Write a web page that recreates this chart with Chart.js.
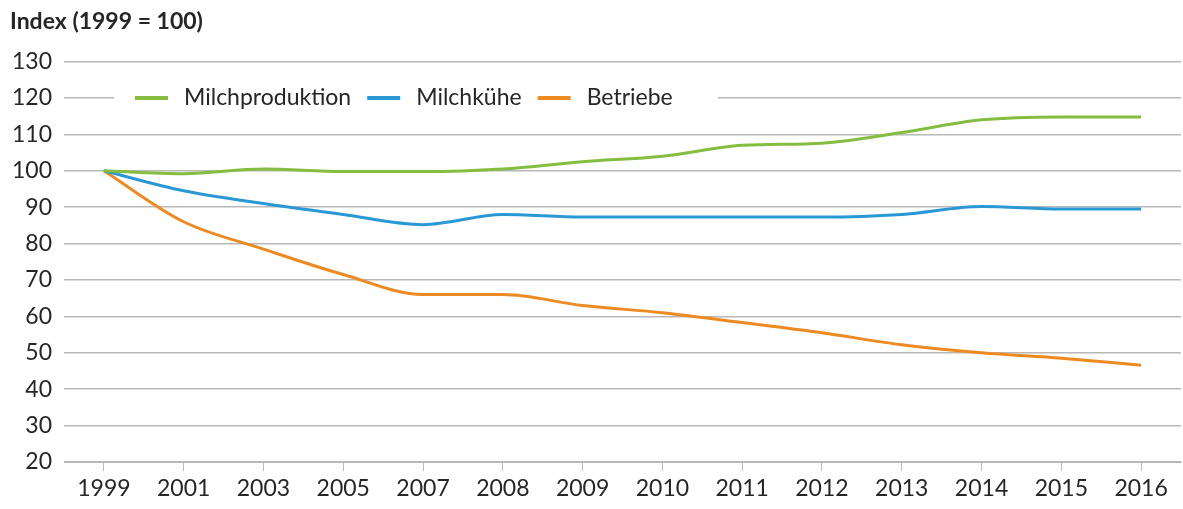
<!DOCTYPE html>
<html>
<head>
<meta charset="utf-8">
<script src="https://cdn.jsdelivr.net/npm/chart.js@4.4.0/dist/chart.umd.min.js"></script>
<style>
  body { margin: 0; background: #fff; }
  #wrap { width: 1183px; height: 509px; position: relative; }
</style>
</head>
<body>
<div id="wrap"><canvas id="chart"></canvas></div>
<script>
const years = ["1999", "2001", "2003", "2005", "2007", "2008", "2009", "2010", "2011", "2012", "2013", "2014", "2015", "2016"];
const milchproduktion = [100, 99.2, 100.5, 99.8, 99.8, 100.5, 102.5, 104, 107, 107.6, 110.5, 114, 114.8, 114.8];
const milchkuehe = [100, 94.5, 91, 88, 85.2, 88, 87.3, 87.3, 87.3, 87.3, 88, 90.2, 89.5, 89.5];
const betriebe = [100, 86, 78.5, 71.5, 66, 66, 63, 61, 58.3, 55.5, 52.2, 50, 48.5, 46.6];
const seriesNames = ["Milchproduktion", "Milchkühe", "Betriebe"];
const seriesColors = ["#84bd3f", "#2a98d4", "#ee8a22"];

const gridColor = "#b8b8b8";
const textColor = "#262626";
const fontFamily = "Lato, 'Open Sans', sans-serif";

// legend box sits on the 120 gridline, inside the plot like the Excel original
const insideLegend = {
  id: "insideLegend",
  afterDraw(chart) {
    const ctx = chart.ctx;
    const y = chart.scales.y.getPixelForValue(120);
    ctx.save();
    ctx.fillStyle = "#fff";
    ctx.fillRect(114, y - 13, 604, 26);
    ctx.font = "23px " + fontFamily;
    ctx.textBaseline = "middle";
    let x = 135;
    chart.data.datasets.forEach((ds) => {
      ctx.strokeStyle = ds.borderColor;
      ctx.lineWidth = 4;
      ctx.beginPath();
      ctx.moveTo(x, y);
      ctx.lineTo(x + 33, y);
      ctx.stroke();
      ctx.fillStyle = textColor;
      ctx.fillText(ds.label, x + 49, y);
      x += 49 + ctx.measureText(ds.label).width + 16;
    });
    ctx.restore();
  },
};

const ctx = document.getElementById("chart").getContext("2d");
new Chart(ctx, {
  type: "line",
  data: {
    labels: years,
    datasets: [milchproduktion, milchkuehe, betriebe].map((data, i) => ({
      label: seriesNames[i],
      data,
      borderColor: seriesColors[i],
      backgroundColor: seriesColors[i],
      borderWidth: 3,
      pointRadius: 0,
      cubicInterpolationMode: "monotone",
      fill: false,
    })),
  },
  options: {
    responsive: true,
    maintainAspectRatio: false,
    animation: false,
    layout: { padding: { left: 10, right: 2, top: 0, bottom: 3 } },
    plugins: {
      legend: { display: false },
      tooltip: { enabled: false },
      title: {
        display: true,
        text: "Index (1999 = 100)",
        align: "start",
        color: textColor,
        font: { family: fontFamily, size: 23, weight: "bold" },
        padding: { top: 8, bottom: 26 },
      },
    },
    scales: {
      x: {
        offset: true,
        grid: {
          offset: false,
          drawOnChartArea: false,
          drawTicks: true,
          tickLength: 9,
          color: gridColor,
        },
        border: { display: true, color: gridColor },
        ticks: {
          color: textColor,
          font: { family: fontFamily, size: 23, lineHeight: 1 },
          padding: 6,
          maxRotation: 0,
          autoSkip: false,
        },
      },
      y: {
        min: 20,
        max: 130,
        afterFit(scale) {
          scale.width = 54;
        },
        grid: { color: gridColor, drawTicks: false, lineWidth: 1.5 },
        border: { display: false },
        ticks: {
          stepSize: 10,
          color: textColor,
          font: { family: fontFamily, size: 23 },
          padding: 12,
        },
      },
    },
  },
  plugins: [insideLegend],
});
</script>
</body>
</html>
